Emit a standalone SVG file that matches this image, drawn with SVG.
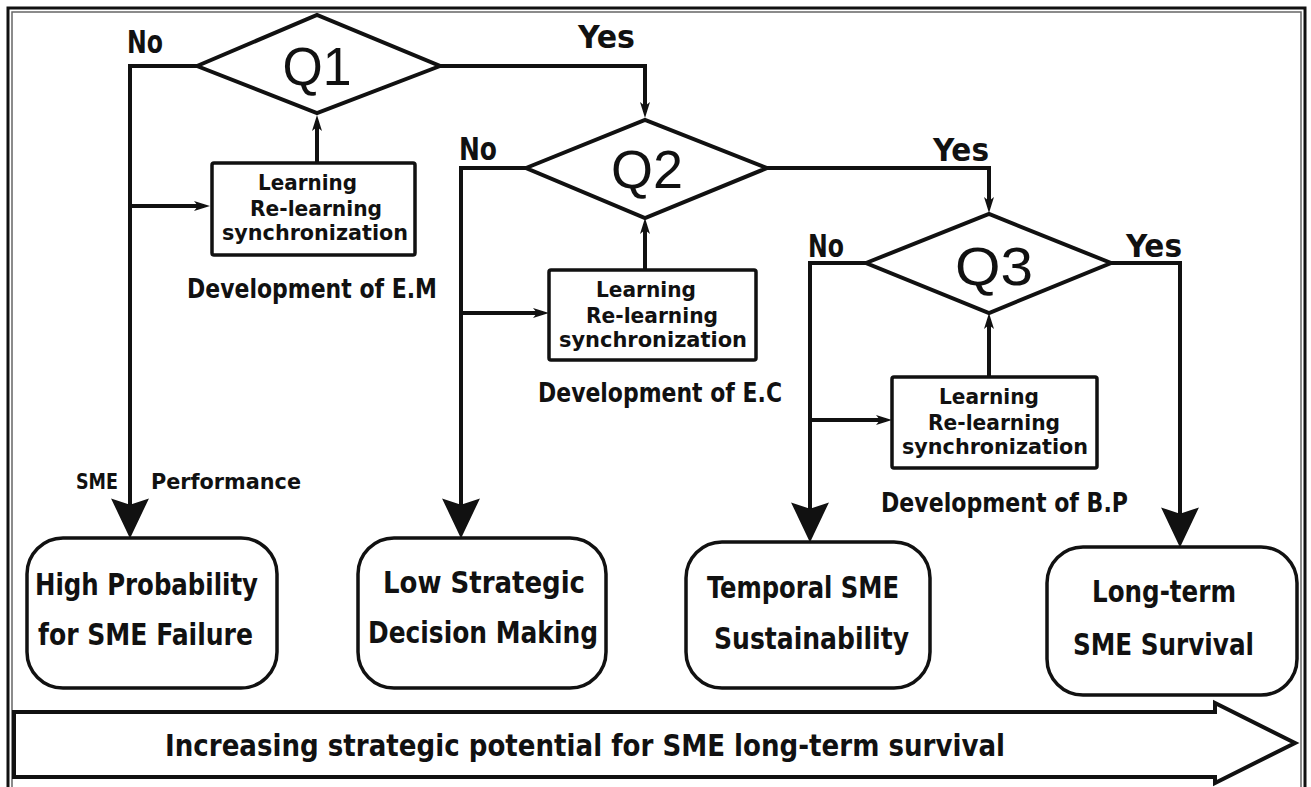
<svg xmlns="http://www.w3.org/2000/svg" width="1311" height="787" viewBox="0 0 1311 787">
<style>
.t{font-family:"DejaVu Sans Condensed","Liberation Sans Narrow","Liberation Sans",sans-serif;font-weight:bold;fill:#111;}
.q{font-family:"Liberation Sans",Arial,sans-serif;font-weight:normal;fill:#111;font-size:54px;text-anchor:middle;}
.ln{fill:none;stroke:#111;stroke-width:4;stroke-linejoin:miter;}
.dia{fill:#fff;stroke:#111;stroke-width:4;stroke-linejoin:miter;}
.box{fill:#fff;stroke:#111;stroke-width:3.5;}
.lab{font-size:32px;}
.lr{font-size:21px;}
.dev{font-size:26px;}
.big{font-size:31px;}
</style>
<defs>
<marker id="big" markerUnits="userSpaceOnUse" markerWidth="40" markerHeight="38" viewBox="0 0 38 36" refX="30" refY="18" orient="auto">
<path d="M0,0 L38,18 L0,36 L6,18 Z" fill="#111"/>
</marker>
<marker id="sm" markerUnits="userSpaceOnUse" markerWidth="16" markerHeight="10" viewBox="0 0 16 10" refX="10" refY="5" orient="auto">
<path d="M0,0 L16,5 L0,10 L4,5 Z" fill="#111"/>
</marker>
</defs>
<rect width="1311" height="787" fill="#fff"/>
<g id="frame">
<rect x="8" y="8" width="1297" height="800" fill="none" stroke="#111" stroke-width="3"/>
<rect x="12" y="12" width="1289" height="800" fill="none" stroke="#666" stroke-width="1.5"/>
</g>
<g id="connectors">
<path class="ln" d="M197,66 H130 V530" marker-end="url(#big)"/>
<path class="ln" d="M440,66 H645 V112" marker-end="url(#sm)"/>
<path class="ln" d="M317,163 V121" marker-end="url(#sm)"/>
<path class="ln" d="M130,206 H204" marker-end="url(#sm)"/>
<path class="ln" d="M526,168 H461 V530" marker-end="url(#big)"/>
<path class="ln" d="M767,168 H989 V207" marker-end="url(#sm)"/>
<path class="ln" d="M645,270 V224" marker-end="url(#sm)"/>
<path class="ln" d="M461,313 H543" marker-end="url(#sm)"/>
<path class="ln" d="M866,263 H810 V534" marker-end="url(#big)"/>
<path class="ln" d="M1111,263 H1180 V539" marker-end="url(#big)"/>
<path class="ln" d="M989,377 V319" marker-end="url(#sm)"/>
<path class="ln" d="M810,420 H886" marker-end="url(#sm)"/>
</g>
<g id="labels">
<text class="t lab" x="127" y="53" textLength="36" lengthAdjust="spacingAndGlyphs">No</text>
<text class="t lab" x="578" y="48" textLength="57" lengthAdjust="spacingAndGlyphs">Yes</text>
<text class="t lab" x="459" y="160" textLength="38" lengthAdjust="spacingAndGlyphs">No</text>
<text class="t lab" x="933" y="161" textLength="56" lengthAdjust="spacingAndGlyphs">Yes</text>
<text class="t lab" x="808" y="257" textLength="36" lengthAdjust="spacingAndGlyphs">No</text>
<text class="t lab" x="1126" y="257" textLength="56" lengthAdjust="spacingAndGlyphs">Yes</text>
<text class="t" font-size="22" x="76" y="489" textLength="42" lengthAdjust="spacingAndGlyphs">SME</text>
<text class="t" font-size="22" x="151" y="489" textLength="150" lengthAdjust="spacingAndGlyphs">Performance</text>
</g>
<g id="q1">
<polygon class="dia" points="197,66 317,15 440,66 317,113"/>
<text class="q" x="317" y="85" textLength="69" lengthAdjust="spacingAndGlyphs">Q1</text>
</g>
<g id="q2">
<polygon class="dia" points="526,168 645,120 767,168 645,218"/>
<text class="q" x="647" y="188" textLength="72" lengthAdjust="spacingAndGlyphs">Q2</text>
</g>
<g id="q3">
<polygon class="dia" points="866,263 989,214 1111,263 989,313"/>
<text class="q" x="994" y="285" textLength="78" lengthAdjust="spacingAndGlyphs">Q3</text>
</g>
<g id="learn1">
<rect class="box" x="212" y="163" width="203" height="92" rx="2"/>
<text class="t lr" x="258" y="190" textLength="99" lengthAdjust="spacingAndGlyphs">Learning</text>
<text class="t lr" x="250" y="216" textLength="132" lengthAdjust="spacingAndGlyphs">Re-learning</text>
<text class="t lr" x="222" y="240" textLength="186" lengthAdjust="spacingAndGlyphs">synchronization</text>
<text class="t dev" x="187" y="298" textLength="250" lengthAdjust="spacingAndGlyphs">Development of E.M</text>
</g>
<g id="learn2">
<rect class="box" x="549" y="270" width="207" height="90" rx="2"/>
<text class="t lr" x="596" y="297" textLength="100" lengthAdjust="spacingAndGlyphs">Learning</text>
<text class="t lr" x="586" y="323" textLength="132" lengthAdjust="spacingAndGlyphs">Re-learning</text>
<text class="t lr" x="559" y="347" textLength="188" lengthAdjust="spacingAndGlyphs">synchronization</text>
<text class="t dev" x="538" y="402" textLength="244" lengthAdjust="spacingAndGlyphs">Development of E.C</text>
</g>
<g id="learn3">
<rect class="box" x="892" y="377" width="205" height="91" rx="2"/>
<text class="t lr" x="939" y="404" textLength="100" lengthAdjust="spacingAndGlyphs">Learning</text>
<text class="t lr" x="928" y="430" textLength="132" lengthAdjust="spacingAndGlyphs">Re-learning</text>
<text class="t lr" x="902" y="454" textLength="186" lengthAdjust="spacingAndGlyphs">synchronization</text>
<text class="t dev" x="881" y="512" textLength="247" lengthAdjust="spacingAndGlyphs">Development of B.P</text>
</g>
<g id="out1">
<rect class="box" x="27" y="538" width="250" height="150" rx="36"/>
<text class="t big" x="35" y="595" textLength="223" lengthAdjust="spacingAndGlyphs">High Probability</text>
<text class="t big" x="38" y="645" textLength="215" lengthAdjust="spacingAndGlyphs">for SME Failure</text>
</g>
<g id="out2">
<rect class="box" x="358" y="538" width="248" height="150" rx="36"/>
<text class="t big" x="383" y="593" textLength="202" lengthAdjust="spacingAndGlyphs">Low Strategic</text>
<text class="t big" x="368" y="643" textLength="230" lengthAdjust="spacingAndGlyphs">Decision Making</text>
</g>
<g id="out3">
<rect class="box" x="686" y="542" width="244" height="146" rx="36"/>
<text class="t big" x="707" y="598" textLength="192" lengthAdjust="spacingAndGlyphs">Temporal SME</text>
<text class="t big" x="714" y="649" textLength="195" lengthAdjust="spacingAndGlyphs">Sustainability</text>
</g>
<g id="out4">
<rect class="box" x="1047" y="547" width="250" height="148" rx="36"/>
<text class="t big" x="1092" y="602" textLength="144" lengthAdjust="spacingAndGlyphs">Long-term</text>
<text class="t big" x="1073" y="655" textLength="181" lengthAdjust="spacingAndGlyphs">SME Survival</text>
</g>
<g id="bottom-arrow">
<path d="M14,712 H1215 V703 L1295,743 L1215,783 V777 H14 Z" fill="#fff" stroke="#111" stroke-width="4" stroke-linejoin="miter"/>
<text class="t big" x="165" y="756" textLength="840" lengthAdjust="spacingAndGlyphs">Increasing strategic potential for SME long-term survival</text>
</g>
</svg>
